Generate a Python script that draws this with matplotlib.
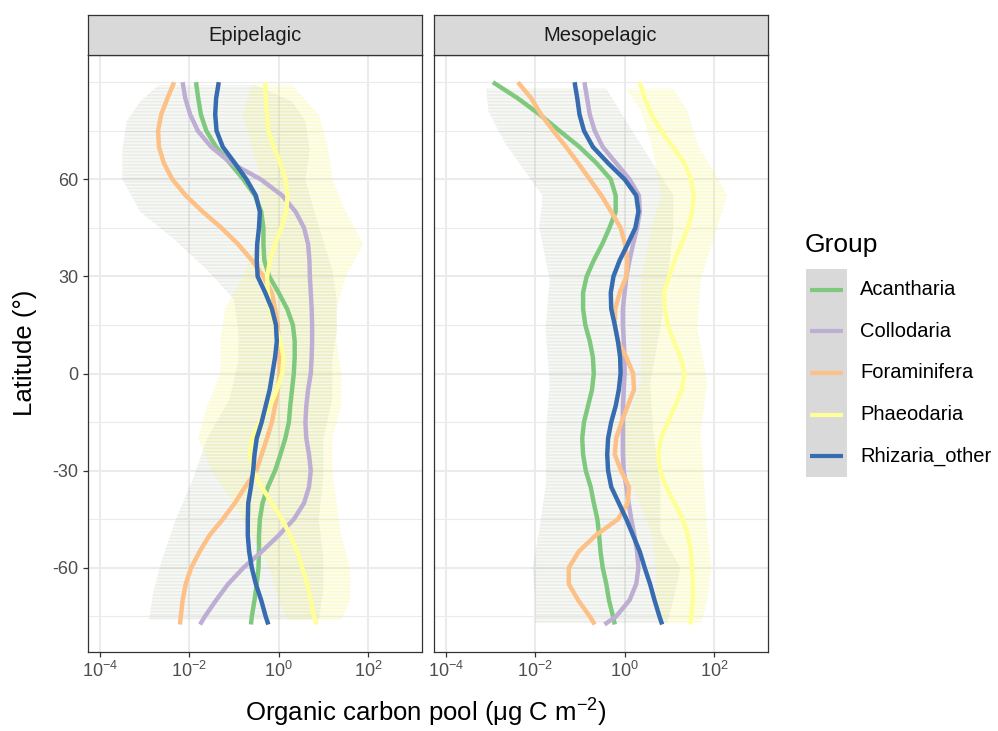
import numpy as np
import matplotlib
matplotlib.use("Agg")
import matplotlib.pyplot as plt

plt.rcParams['font.family'] = ['Liberation Sans', 'DejaVu Sans']
plt.rcParams['mathtext.fontset'] = 'custom'
plt.rcParams['mathtext.rm'] = 'Liberation Sans'
plt.rcParams['mathtext.it'] = 'Liberation Sans:italic'
plt.rcParams['mathtext.bf'] = 'Liberation Sans:bold'
plt.rcParams['hatch.linewidth'] = 1.2

# ---------------- data ----------------
panels = ["Epipelagic", "Mesopelagic"]
groups = ["Acantharia", "Collodaria", "Foraminifera", "Phaeodaria", "Rhizaria_other"]
colors = ["#7FC97F", "#BEAED4", "#FDC086", "#FFFF99", "#386CB0"]

lat = [90, 85, 80, 75, 70, 65, 60, 55, 50, 45, 40, 35, 30, 25, 20, 15, 10, 5, 0,
       -5, -10, -15, -20, -25, -30, -35, -40, -45, -50, -55, -60, -65, -70, -75, -77.5]

# smoothed curves, log10 of organic carbon pool
epi_acantharia = [-1.85, -1.80, -1.74, -1.62, -1.40, -1.09, -0.79, -0.53, -0.39, -0.34, -0.34, -0.32, -0.21,
                  0.0, 0.19, 0.32, 0.36, 0.36, 0.34, 0.30, 0.26, 0.23, 0.15, 0.04, -0.08, -0.24, -0.36,
                  -0.42, -0.44, -0.44, -0.45, -0.49, -0.54, -0.60, -0.62]
epi_collodaria = [-2.15, -2.09, -1.98, -1.81, -1.51, -1.06, -0.40, 0.08, 0.38, 0.57, 0.66, 0.69, 0.70,
                  0.72, 0.74, 0.75, 0.75, 0.74, 0.72, 0.66, 0.62, 0.60, 0.62, 0.68, 0.72, 0.68, 0.57,
                  0.34, 0.0, -0.38, -0.79, -1.13, -1.40, -1.65, -1.76]
epi_foraminifera = [-2.34, -2.49, -2.63, -2.70, -2.68, -2.57, -2.38, -2.08, -1.70, -1.28, -0.91, -0.60, -0.34,
                    -0.15, -0.08, -0.02, 0.0, 0.02, 0.02, -0.02, -0.08, -0.15, -0.26, -0.38, -0.50, -0.75,
                    -0.98, -1.25, -1.55, -1.77, -1.96, -2.08, -2.15, -2.19, -2.21]
epi_phaeodaria = [-0.30, -0.29, -0.26, -0.23, -0.11, 0.04, 0.15, 0.20, 0.17, 0.06, -0.08, -0.19, -0.26,
                  -0.24, -0.19, -0.08, 0.04, 0.11, 0.08, -0.04, -0.19, -0.42, -0.60, -0.64, -0.57, -0.38,
                  -0.15, 0.08, 0.26, 0.42, 0.53, 0.64, 0.72, 0.79, 0.85]
epi_rhizaria = [-1.34, -1.40, -1.42, -1.39, -1.25, -0.98, -0.72, -0.51, -0.42, -0.44, -0.48, -0.49, -0.47,
                -0.30, -0.15, -0.06, -0.04, -0.08, -0.14, -0.20, -0.29, -0.38, -0.49, -0.54, -0.57, -0.62,
                -0.68, -0.69, -0.69, -0.66, -0.60, -0.51, -0.39, -0.29, -0.23]

meso_acantharia = [-2.95, -2.39, -1.90, -1.46, -1.01, -0.63, -0.31, -0.20, -0.20, -0.34, -0.50, -0.69, -0.85,
                   -0.93, -0.93, -0.88, -0.78, -0.71, -0.69, -0.73, -0.82, -0.91, -0.95, -0.93, -0.87, -0.76,
                   -0.69, -0.61, -0.57, -0.54, -0.49, -0.41, -0.35, -0.26, -0.22]
meso_collodaria = [-0.90, -0.84, -0.78, -0.67, -0.49, -0.19, 0.11, 0.32, 0.34, 0.28, 0.19, 0.11, 0.04,
                   0.0, -0.04, -0.04, -0.02, 0.0, 0.0, -0.02, -0.04, -0.04, -0.04, -0.04, -0.02, 0.04,
                   0.09, 0.15, 0.22, 0.28, 0.31, 0.26, 0.11, -0.19, -0.45]
meso_foraminifera = [-2.39, -2.09, -1.87, -1.60, -1.31, -1.04, -0.78, -0.52, -0.30, -0.09, 0.01, 0.06, 0.04,
                     -0.11, -0.21, -0.22, -0.15, 0.04, 0.19, 0.21, 0.07, -0.07, -0.19, -0.22, -0.08, 0.10,
                     0.07, -0.15, -0.65, -1.03, -1.25, -1.25, -1.04, -0.78, -0.67]
meso_phaeodaria = [0.34, 0.45, 0.60, 0.82, 1.08, 1.34, 1.49, 1.55, 1.51, 1.42, 1.27, 1.12, 1.00,
                   0.88, 0.90, 0.97, 1.10, 1.25, 1.34, 1.28, 1.13, 0.97, 0.81, 0.75, 0.80, 0.93,
                   1.12, 1.30, 1.42, 1.48, 1.51, 1.53, 1.53, 1.49, 1.47]
meso_rhizaria = [-1.12, -1.06, -1.01, -0.91, -0.71, -0.37, 0.0, 0.26, 0.31, 0.24, 0.07, -0.11, -0.25,
                 -0.31, -0.30, -0.22, -0.15, -0.10, -0.09, -0.13, -0.20, -0.30, -0.37, -0.39, -0.37, -0.30,
                 -0.13, 0.04, 0.19, 0.34, 0.45, 0.57, 0.67, 0.78, 0.84]

curves = {
    "Epipelagic": [epi_acantharia, epi_collodaria, epi_foraminifera, epi_phaeodaria, epi_rhizaria],
    "Mesopelagic": [meso_acantharia, meso_collodaria, meso_foraminifera, meso_phaeodaria, meso_rhizaria],
}

# approximate extent of the faint point clouds (log10)
cloud_lat_epi = [89, 84, 78, 69, 60, 50, 41, 32, 23, 13, 4, -8, -20, -32, -45, -57, -67, -76]
cloud_left_epi = [-2.7, -3.1, -3.4, -3.5, -3.5, -3.1, -2.3, -1.6, -1.0, -0.9, -0.9, -1.1, -1.6, -1.9, -2.3, -2.6, -2.8, -2.9]
cloud_right_epi = [-0.5, 0.3, 0.6, 0.7, 0.6, 0.8, 1.0, 1.2, 1.3, 1.3, 1.2, 1.2, 1.0, 1.0, 0.9, 1.0, 1.0, 0.9]
cloud_lat_meso = [88, 81, 71, 55, 45, 29, 14, -3, -18, -34, -49, -60, -70, -77]
cloud_left_meso = [-3.1, -3.05, -2.67, -1.84, -1.91, -1.68, -1.77, -1.68, -1.76, -1.76, -1.92, -2.06, -2.0, -2.0]
cloud_right_meso = [-0.41, -0.10, 0.35, 1.09, 1.09, 0.96, 0.80, 0.57, 0.64, 0.80, 0.80, 1.25, 1.09, 0.96]

ycloud_lat_epi = [89, 80, 70, 60, 50, 40, 30, 20, 10, 0, -10, -20, -30, -40, -50, -60, -70, -76]
ycloud_left_epi = [-0.6, -0.8, -0.6, -0.4, -0.4, -0.5, -0.8, -1.2, -1.3, -1.3, -1.6, -1.8, -1.5, -1.0, -0.6, -0.2, 0.0, 0.2]
ycloud_right_epi = [0.3, 0.9, 1.1, 1.2, 1.5, 1.9, 1.5, 1.3, 1.3, 1.4, 1.4, 1.2, 1.2, 1.3, 1.4, 1.6, 1.6, 1.4]
ycloud_lat_meso = [88, 81, 71, 55, 45, 29, 14, -3, -18, -34, -49, -60, -70, -77]
ycloud_left_meso = [0.04, 0.37, 0.6, 0.82, 0.6, 0.37, 0.37, 0.37, -0.07, 0.15, 0.6, 0.7, 0.7, 0.82]
ycloud_right_meso = [1.09, 1.41, 1.63, 2.3, 2.07, 1.7, 1.63, 1.85, 1.7, 1.78, 1.85, 1.94, 1.85, 1.72]

clouds = {
    "Epipelagic": (cloud_lat_epi, cloud_left_epi, cloud_right_epi,
                   ycloud_lat_epi, ycloud_left_epi, ycloud_right_epi),
    "Mesopelagic": (cloud_lat_meso, cloud_left_meso, cloud_right_meso,
                    ycloud_lat_meso, ycloud_left_meso, ycloud_right_meso),
}

x_ticks = [1e-4, 1e-2, 1e0, 1e2]
x_tick_labels = [r'$\mathregular{10^{-4}}$', r'$\mathregular{10^{-2}}$',
                 r'$\mathregular{10^{0}}$', r'$\mathregular{10^{2}}$']
y_ticks = [-60, -30, 0, 30, 60]
y_minor = [-75, -45, -15, 15, 45, 75, 90]

# ---------------- figure ----------------
W, H = 998, 731
fig = plt.figure(figsize=(W / 100, H / 100), dpi=100)

def fx(px):
    return px / W

def fy(py):
    return 1 - py / H

panel_left = [87.5, 433.5]
panel_w = 334.0
panel_top, panel_bot = 55.0, 652.0
strip_top = 15.0

grid_col = "#EBEBEB"
border_col = "#333333"

for i, name in enumerate(panels):
    ax = fig.add_axes([fx(panel_left[i]), fy(panel_bot), panel_w / W, (panel_bot - panel_top) / H])
    ax.set_xscale('log')
    ax.set_xlim(10 ** -4.28, 10 ** 3.2)
    ax.set_ylim(-86.0, 98.4)
    # grid
    for yv in y_minor:
        ax.axhline(yv, color=grid_col, lw=0.8, zorder=0)
    for yv in y_ticks:
        ax.axhline(yv, color=grid_col, lw=1.5, zorder=0)
    for xv in x_ticks:
        ax.axvline(xv, color=grid_col, lw=1.5, zorder=0)
    # clouds
    cl, cll, clr, yl, yll, ylr = clouds[name]
    ax.fill_betweenx(cl, 10 ** np.array(cll), 10 ** np.array(clr),
                     facecolor=(0.55, 0.61, 0.47, 0.06), edgecolor=(0.45, 0.52, 0.40, 0.10),
                     hatch='-----', lw=0, zorder=1)
    ax.fill_betweenx(yl, 10 ** np.array(yll), 10 ** np.array(ylr),
                     facecolor=(0.97, 0.97, 0.50, 0.12), edgecolor=(0.95, 0.95, 0.45, 0.22),
                     hatch='-----', lw=0, zorder=1)
    # lines
    for g, c, vals in zip(groups, colors, curves[name]):
        ax.plot(10 ** np.array(vals), lat, color=c, lw=3.2, solid_capstyle='butt',
                solid_joinstyle='round', zorder=3)
    ax.set_xticks(x_ticks)
    ax.set_xticklabels(x_tick_labels)
    ax.xaxis.set_minor_locator(matplotlib.ticker.NullLocator())
    ax.set_yticks(y_ticks)
    ax.tick_params(axis='both', which='major', length=3.5, width=0.9, color=border_col,
                   labelcolor="#4D4D4D", labelsize=13, pad=3)
    if i == 0:
        ax.set_yticklabels([str(v) for v in y_ticks])
    else:
        ax.tick_params(axis='y', length=0, labelleft=False)
    for sp in ax.spines.values():
        sp.set_color(border_col)
        sp.set_linewidth(0.9)
    # strip
    sax = fig.add_axes([fx(panel_left[i]), fy(panel_top), panel_w / W, (panel_top - strip_top) / H])
    sax.set_facecolor("#D9D9D9")
    sax.set_xticks([])
    sax.set_yticks([])
    for sp in sax.spines.values():
        sp.set_color(border_col)
        sp.set_linewidth(0.9)
    sax.text(0.5, 0.48, name, ha='center', va='center', fontsize=14.5, color="#1A1A1A",
             transform=sax.transAxes)

# axis titles
fig.text(fx(426), fy(713), r'Organic carbon pool ($\mathregular{\mu}$g C m$^{\mathregular{-2}}$)',
         ha='center', va='center', fontsize=18.5, color='black')
fig.text(fx(25), fy(353), 'Latitude (°)', ha='center', va='center', rotation=90,
         fontsize=18.5, color='black')

# legend
fig.text(fx(805), fy(245), 'Group', ha='left', va='center', fontsize=19, color='black')
lax = fig.add_axes([fx(805.5), fy(477), 41.5 / W, (477 - 269) / H])
lax.set_facecolor("#D9D9D9")
lax.set_xlim(0, 1)
lax.set_ylim(len(groups) - 0.5, -0.5)
for sp in lax.spines.values():
    sp.set_visible(False)
lax.set_xticks([])
lax.set_yticks([])
for k, (g, c) in enumerate(zip(groups, colors)):
    lax.plot([0.1, 0.9], [k, k], color=c, lw=3.0, solid_capstyle='butt')
    lax.text(1.32, k, g, ha='left', va='center', fontsize=14.5, color='black',
             transform=lax.transData, clip_on=False)

fig.savefig("out.png", dpi=100)
